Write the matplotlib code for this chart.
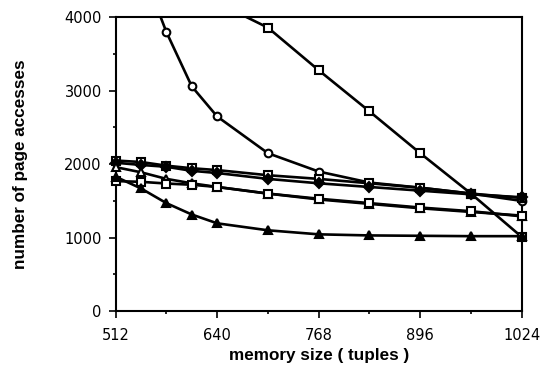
"""Accesos a página según tamaño de memoria."""
import matplotlib
matplotlib.use("Agg")
import matplotlib.pyplot as plt
from matplotlib.ticker import MultipleLocator

plt.rcParams["font.family"] = ["Liberation Sans", "DejaVu Sans"]

MEM = [512, 544, 576, 608, 640, 704, 768, 832, 896, 960, 1024]

# curvas empinadas (se salen por arriba)
MEM_CIRC = [544, 576, 608, 640, 704, 768, 832, 896, 960, 1024]
CIRC = [4700, 3800, 3060, 2650, 2150, 1900, 1750, 1680, 1600, 1500]
MEM_SQS = [640, 704, 768, 832, 896, 960, 1024]
SQ_STEEP = [4200, 3860, 3280, 2720, 2150, 1600, 1010]

# curvas planas
SQ_TOP = [2050, 2030, 1980, 1945, 1920, 1850, 1800, 1740, 1680, 1600, 1540]
DIA = [2020, 1990, 1965, 1910, 1880, 1800, 1740, 1690, 1640, 1590, 1550]
TRI_OPEN = [1960, 1890, 1800, 1740, 1690, 1600, 1520, 1460, 1400, 1350, 1300]
SQ_LOW = [1770, 1760, 1737, 1720, 1690, 1600, 1530, 1470, 1410, 1360, 1290]
TRI_FILL = [1830, 1670, 1470, 1315, 1195, 1100, 1045, 1030, 1025, 1020, 1020]

fig = plt.figure(figsize=(5.48, 3.69), dpi=100)
ax = fig.add_axes([0.211, 0.157, 0.741, 0.796])

LW = 1.9
MS = 5.5


def curva(x, y, marker, fill, clip=False):
    mfc = "black" if fill else "white"
    if clip:
        ax.plot(x, y, "-", color="black", lw=LW)
        xs = [a for a, b in zip(x, y) if b <= 4000]
        ys = [b for b in y if b <= 4000]
        ax.plot(xs, ys, ls="none", marker=marker, mfc=mfc, mec="black",
                ms=MS, mew=1.5, clip_on=False, zorder=3)
    else:
        ax.plot(x, y, color="black", lw=LW, marker=marker, mfc=mfc,
                mec="black", ms=MS, mew=1.5, clip_on=False, zorder=3)


curva(MEM_CIRC, CIRC, "o", False, clip=True)
curva(MEM_SQS, SQ_STEEP, "s", False, clip=True)
curva(MEM, SQ_TOP, "s", False)
curva(MEM, DIA, "D", True)
curva(MEM, TRI_OPEN, "^", False)
curva(MEM, SQ_LOW, "s", False)
curva(MEM, TRI_FILL, "^", True)

ax.set_xlim(512, 1024)
ax.set_ylim(0, 4000)
ax.xaxis.set_major_locator(MultipleLocator(128))
ax.xaxis.set_minor_locator(MultipleLocator(64))
ax.yaxis.set_major_locator(MultipleLocator(1000))
ax.yaxis.set_minor_locator(MultipleLocator(500))
ax.tick_params(which="major", direction="out", length=5, width=1.2)
ax.tick_params(which="minor", direction="out", length=2.5, width=1.2)
ax.tick_params(axis="y", pad=5)
ax.tick_params(axis="x", pad=7)
ax.tick_params(which="both", top=False, right=False)
for lab in ax.get_xticklabels() + ax.get_yticklabels():
    lab.set_fontfamily("DejaVu Sans")
    lab.set_fontsize(10.5)
for s in ax.spines.values():
    s.set_linewidth(1.5)

ax.set_xlabel("memory size ( tuples )", fontsize=12.3, fontweight="bold", labelpad=4)
ax.set_ylabel("number of page accesses", fontsize=12.3, fontweight="bold", labelpad=26)

fig.savefig("out.png", dpi=100)
